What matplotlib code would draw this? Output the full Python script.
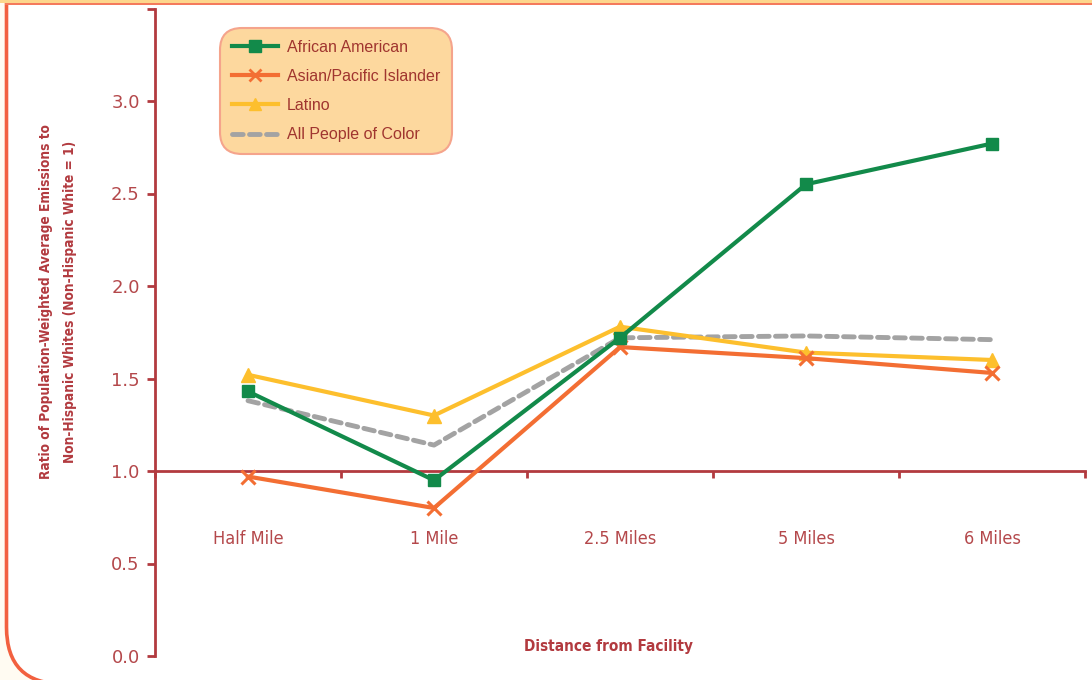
import matplotlib
matplotlib.use("Agg")
import matplotlib.pyplot as plt
from matplotlib.patches import FancyBboxPatch, Rectangle
from matplotlib.lines import Line2D

# ---- data -------------------------------------------------------------
distances = ["Half Mile", "1 Mile", "2.5 Miles", "5 Miles", "6 Miles"]
african_american = [1.43, 0.95, 1.72, 2.55, 2.77]
asian_pacific = [0.97, 0.80, 1.67, 1.61, 1.53]
latino = [1.52, 1.30, 1.78, 1.64, 1.60]
all_people_of_color = [1.38, 1.14, 1.72, 1.73, 1.71]
y_ticks = [0.0, 0.5, 1.0, 1.5, 2.0, 2.5, 3.0, 3.5]
y_tick_labels = ["0.0", "0.5", "1.0", "1.5", "2.0", "2.5", "3.0", ""]

# ---- styling ----------------------------------------------------------
W, H = 1092, 680
AXIS_RED = "#B23A3F"
TEXT_RED = "#B4484B"
GREEN = "#128A4A"
ORANGE = "#F36E33"
YELLOW = "#FDBF2D"
GRAY = "#A3A3A3"
NARROW = dict(family="DejaVu Sans", stretch="condensed")


def fx(x):
    return x / W


def fy(y):
    return 1 - y / H


fig = plt.figure(figsize=(W / 100, H / 100), dpi=100, facecolor="#FFFBF2")

# rounded page frame, only its left side and lower-left corner show
frame = FancyBboxPatch((fx(6.5), fy(684)), fx(1400), fy(-200) - fy(684),
                       boxstyle="round,pad=0,rounding_size=0.052",
                       transform=fig.transFigure, facecolor="white",
                       edgecolor="#F2603F", linewidth=2.6,
                       mutation_aspect=W / H, zorder=-3)
fig.patches.append(frame)
fig.patches.append(Rectangle((0, fy(3.2)), 1, fy(0) - fy(3.2),
                             transform=fig.transFigure, facecolor="#FDD68C",
                             edgecolor="none", zorder=-2))
fig.patches.append(Rectangle((fx(5), fy(5.2)), 1, fy(3.2) - fy(5.2),
                             transform=fig.transFigure, facecolor="#F47A5C",
                             edgecolor="none", zorder=-2))

ax = fig.add_axes([fx(155), 1 - 656 / H, (1085 - 155) / W, (656 - 8.5) / H])
ax.set_facecolor("none")
x = list(range(len(distances)))
ax.set_xlim(-0.5, len(distances) - 0.5)
ax.set_ylim(0, 3.5)

# spines: vertical axis at left, category axis crossing at 1.0
for side in ("top", "right"):
    ax.spines[side].set_visible(False)
ax.spines["left"].set_color(AXIS_RED)
ax.spines["left"].set_linewidth(2.0)
ax.spines["bottom"].set_position(("data", 1.0))
ax.spines["bottom"].set_color(AXIS_RED)
ax.spines["bottom"].set_linewidth(2.0)

ax.set_yticks(y_ticks)
ax.set_yticklabels(y_tick_labels)
ax.tick_params(axis="y", direction="out", length=6, width=2, color=AXIS_RED,
               labelcolor=TEXT_RED, labelsize=13, pad=5)

boundaries = [i - 0.5 for i in range(len(distances) + 1)]
ax.set_xticks(boundaries)
ax.set_xticklabels([])
ax.tick_params(axis="x", direction="out", length=5, width=2, color=AXIS_RED)
for xi, name in zip(x, distances):
    ax.text(xi, 0.632, name, ha="center", va="center", color=TEXT_RED,
            fontsize=13, **NARROW)

# series
lw = 3.0
ax.plot(x, all_people_of_color, color=GRAY, lw=3.5, ls=(0, (2.2, 1.3)),
        dash_capstyle="round", zorder=3, label="All People of Color")
ax.plot(x, latino, color=YELLOW, lw=lw, marker="^", ms=10, zorder=4,
        label="Latino")
ax.plot(x, asian_pacific, color=ORANGE, lw=lw, marker="x", ms=10, mew=2.2,
        zorder=5, label="Asian/Pacific Islander")
ax.plot(x, african_american, color=GREEN, lw=lw, marker="s", ms=9, zorder=6,
        label="African American")

handles = [
    Line2D([], [], color=GREEN, lw=lw, marker="s", ms=8),
    Line2D([], [], color=ORANGE, lw=lw, marker="x", ms=8, mew=2),
    Line2D([], [], color=YELLOW, lw=lw, marker="^", ms=8),
    Line2D([], [], color=GRAY, lw=3.5, ls=(0, (2.2, 1.3)), dash_capstyle="round"),
]
labels = ["African American", "Asian/Pacific Islander", "Latino",
          "All People of Color"]
leg = ax.legend(handles, labels, loc="upper left",
                bbox_to_anchor=(fx(220), fy(28)), bbox_transform=fig.transFigure,
                borderaxespad=0, frameon=True, fancybox=True,
                prop={"family": "Liberation Sans", "size": 11.5},
                handlelength=2.9, handletextpad=0.55, labelspacing=0.88,
                borderpad=0.75)
for t in leg.get_texts():
    t.set_color("#A0352F")
fr = leg.get_frame()
fr.set_boxstyle("round,pad=0,rounding_size=1.4")
fr.set_facecolor("#FDD89E")
fr.set_edgecolor("#F5A48C")
fr.set_linewidth(1.5)
fr.set_alpha(1)

fig.text(fx(58), fy(302),
         "Ratio of Population-Weighted Average Emissions to\n"
         "Non-Hispanic Whites (Non-Hispanic White = 1)",
         rotation=90, ha="center", va="center", ma="center",
         color=AXIS_RED, fontsize=9.8, fontweight="bold",
         linespacing=1.9, **NARROW)
fig.text(fx(609), fy(647), "Distance from Facility", ha="center",
         va="center", color=AXIS_RED, fontsize=11, fontweight="bold",
         **NARROW)

fig.savefig("out.png", dpi=100, facecolor=fig.get_facecolor())
